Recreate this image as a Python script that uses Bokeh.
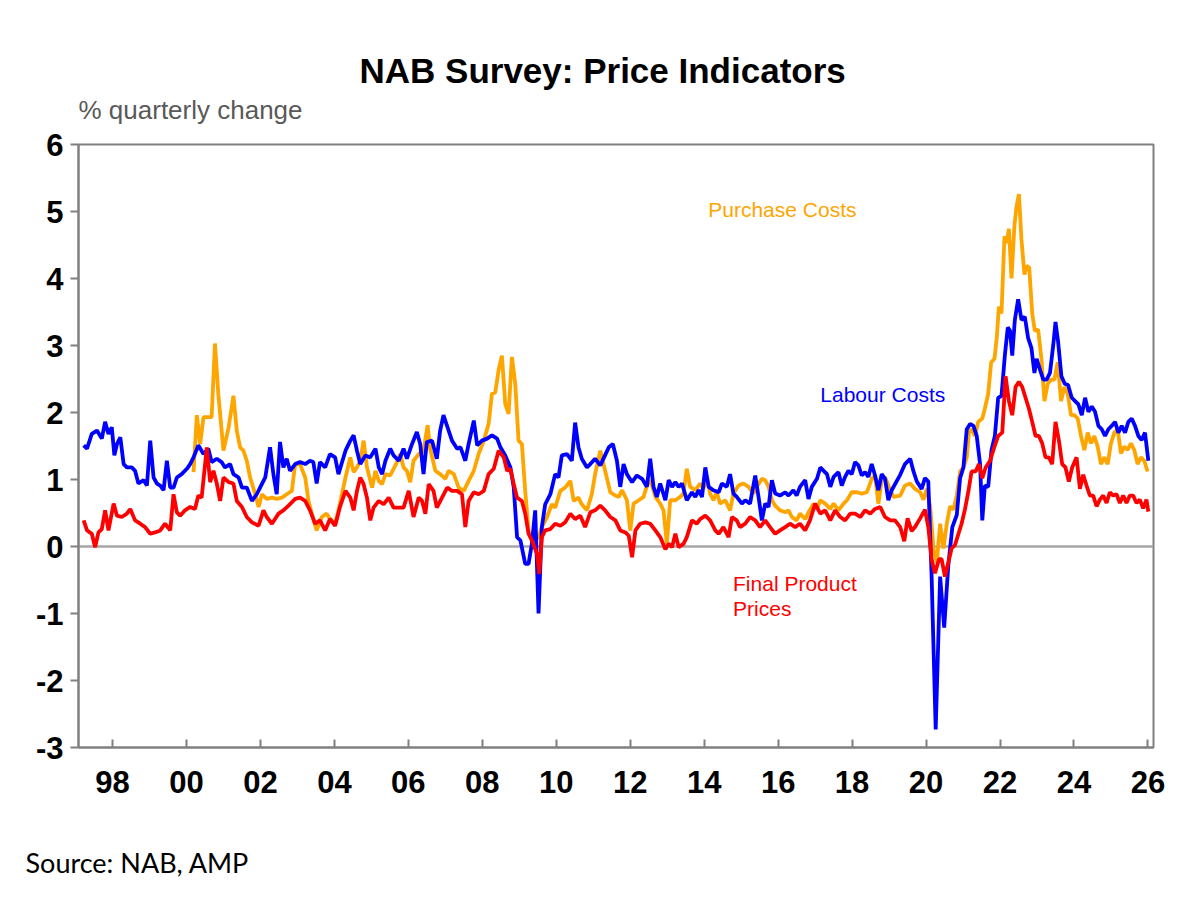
from bokeh.plotting import figure
from bokeh.models import Range1d, FixedTicker, Span, Label, Title
from bokeh.embed import file_html
from bokeh.resources import INLINE

# ---------------- data ----------------
labour_year = [
    1997.22, 1997.31, 1997.44, 1997.58, 1997.71, 1997.80, 1997.89, 1997.98, 1998.05, 1998.12,
    1998.21, 1998.30, 1998.39, 1998.52, 1998.61, 1998.70, 1998.84, 1998.93, 1999.02, 1999.11,
    1999.20, 1999.29, 1999.38, 1999.47, 1999.56, 1999.65, 1999.74, 1999.87, 2000.01, 2000.10,
    2000.19, 2000.32, 2000.46, 2000.59, 2000.68, 2000.82, 2000.95, 2001.04, 2001.18, 2001.27,
    2001.41, 2001.50, 2001.63, 2001.77, 2001.90, 2001.99, 2002.13, 2002.26, 2002.35, 2002.44,
    2002.53, 2002.62, 2002.71, 2002.80, 2002.94, 2003.07, 2003.21, 2003.34, 2003.43, 2003.52,
    2003.61, 2003.75, 2003.88, 2004.02, 2004.11,
    2004.30, 2004.43, 2004.52, 2004.61, 2004.70, 2004.84, 2004.97, 2005.11, 2005.20, 2005.29,
    2005.38, 2005.51, 2005.60, 2005.74, 2005.87, 2005.96, 2006.10, 2006.23, 2006.32, 2006.41,
    2006.50, 2006.64, 2006.77, 2006.86, 2006.95, 2007.04, 2007.18, 2007.32, 2007.41, 2007.54,
    2007.63, 2007.77, 2007.86, 2007.99, 2008.13, 2008.26, 2008.40, 2008.49, 2008.62, 2008.76,
    2008.85, 2008.94, 2009.03, 2009.16, 2009.25, 2009.34, 2009.43, 2009.52, 2009.61, 2009.70,
    2009.84, 2009.97, 2010.06, 2010.15, 2010.29, 2010.42, 2010.51, 2010.60, 2010.69, 2010.83,
    2010.92, 2011.05, 2011.19,
    2011.42, 2011.53, 2011.64, 2011.73, 2011.82, 2011.91, 2012.05, 2012.18, 2012.32, 2012.45,
    2012.54, 2012.63, 2012.72, 2012.81, 2012.95, 2013.04, 2013.13, 2013.22, 2013.31, 2013.40,
    2013.53, 2013.67, 2013.76, 2013.85, 2013.94, 2014.03, 2014.12, 2014.25, 2014.39, 2014.48,
    2014.61, 2014.70, 2014.79, 2014.88, 2015.02, 2015.11, 2015.24, 2015.38, 2015.47, 2015.56,
    2015.65, 2015.74, 2015.83, 2015.92, 2016.05, 2016.19, 2016.28, 2016.41, 2016.50, 2016.59,
    2016.73, 2016.82, 2016.91, 2017.05, 2017.14, 2017.23, 2017.32, 2017.41, 2017.50, 2017.63,
    2017.72, 2017.81, 2017.90, 2017.99, 2018.08, 2018.17, 2018.26, 2018.35, 2018.44, 2018.53,
    2018.62, 2018.71, 2018.80, 2018.89, 2018.98, 2019.07,
    2019.30, 2019.43, 2019.57, 2019.66, 2019.75, 2019.88, 2019.97, 2020.06, 2020.15, 2020.26,
    2020.38, 2020.49, 2020.60, 2020.71, 2020.83, 2020.92, 2021.01, 2021.10, 2021.19, 2021.28,
    2021.37, 2021.46, 2021.52, 2021.59, 2021.68, 2021.77, 2021.86, 2021.95, 2022.04, 2022.13,
    2022.21, 2022.27, 2022.33, 2022.40, 2022.49, 2022.58, 2022.67, 2022.76, 2022.85, 2022.93,
    2022.99, 2023.08, 2023.17, 2023.26, 2023.35, 2023.44, 2023.50, 2023.57, 2023.66, 2023.75,
    2023.84, 2023.94, 2024.03, 2024.12, 2024.21, 2024.30, 2024.39, 2024.48, 2024.57, 2024.66,
    2024.75, 2024.84, 2024.93, 2025.02, 2025.11, 2025.20, 2025.29, 2025.38, 2025.47, 2025.56,
    2025.65, 2025.74, 2025.83, 2025.92, 2026.01,
]
labour_val = [
    1.51, 1.46, 1.68, 1.73, 1.61, 1.86, 1.68, 1.78, 1.36, 1.53,
    1.63, 1.23, 1.18, 1.18, 1.13, 0.94, 0.99, 0.91, 1.58, 1.03,
    0.94, 0.91, 0.84, 1.28, 0.88, 0.88, 1.03, 1.08, 1.16, 1.23,
    1.33, 1.51, 1.38, 1.46, 1.26, 1.31, 1.26, 1.18, 1.23, 1.08,
    1.03, 0.88, 0.88, 0.68, 0.78, 0.88, 1.03, 1.48, 1.08, 0.78,
    1.56, 1.18, 1.31, 1.13, 1.23, 1.26, 1.23, 1.28, 1.26, 0.94,
    1.26, 1.18, 1.38, 1.33, 1.08,
    1.43, 1.58, 1.66, 1.43, 1.23, 1.36, 1.33, 1.46, 1.18, 1.08,
    1.28, 1.46, 1.36, 1.28, 1.46, 1.31, 1.53, 1.71, 1.53, 1.08,
    1.56, 1.58, 1.31, 1.73, 1.96, 1.81, 1.58, 1.46, 1.48, 1.28,
    1.53, 1.88, 1.51, 1.58, 1.61, 1.66, 1.61, 1.48, 1.36, 1.18,
    0.88, 0.14, 0.09, -0.26, -0.26, 0.04, 0.54, -1.00, 0.29, 0.63,
    0.78, 1.08, 1.03, 1.36, 1.38, 1.28, 1.85, 1.48, 1.31, 1.18,
    1.23, 1.31, 1.21,
    1.48, 1.53, 1.28, 0.89, 1.23, 1.08, 0.96, 1.06, 1.01, 0.89,
    1.31, 0.89, 0.74, 0.94, 0.69, 0.99, 0.89, 0.96, 0.89, 0.94,
    0.69, 0.81, 0.74, 0.84, 0.74, 1.18, 0.89, 0.84, 0.81, 0.94,
    0.89, 1.08, 0.79, 0.74, 0.64, 0.69, 0.64, 1.06, 0.74, 0.39,
    0.64, 0.59, 0.99, 0.79, 0.76, 0.81, 0.76, 0.84, 0.76, 0.89,
    0.99, 0.71, 0.89, 1.01, 1.18, 1.13, 1.08, 0.89, 1.04, 1.11,
    0.91, 1.04, 1.13, 1.08, 1.26, 1.21, 1.06, 1.11, 1.04, 1.23,
    1.06, 0.84, 1.08, 1.01, 0.69, 0.84,
    1.07, 1.23, 1.31, 1.12, 0.97, 0.86, 1.02, 0.97, -0.45, -2.73,
    -0.45, -1.21, -0.29, 0.29, 0.47, 1.02, 1.18, 1.75, 1.83, 1.80,
    1.65, 1.23, 0.39, 0.91, 0.89, 1.44, 1.65, 2.22, 2.25, 2.85,
    3.27, 3.22, 2.85, 3.38, 3.69, 3.38, 3.43, 3.11, 2.96, 2.59,
    2.80, 2.64, 2.49, 2.49, 2.59, 3.01, 3.35, 3.06, 2.54, 2.43,
    2.41, 2.22, 2.17, 2.12, 1.96, 2.22, 2.01, 2.09, 2.01, 1.80,
    1.75, 1.65, 1.75, 1.80, 1.86, 1.70, 1.80, 1.70, 1.86, 1.91,
    1.80, 1.65, 1.59, 1.70, 1.28,
]

purchase_year = [
    2000.19, 2000.28, 2000.37, 2000.46, 2000.59, 2000.68, 2000.77, 2000.86, 2001.00, 2001.14,
    2001.27, 2001.36, 2001.45, 2001.54, 2001.63, 2001.72, 2001.86, 2001.95, 2002.04, 2002.17,
    2002.31, 2002.44, 2002.58, 2002.71, 2002.85, 2002.94, 2003.07, 2003.21, 2003.30, 2003.39,
    2003.52, 2003.66, 2003.79, 2003.88, 2004.02, 2004.15,
    2004.30, 2004.43, 2004.52, 2004.61, 2004.70, 2004.79, 2004.88, 2005.02, 2005.11, 2005.20,
    2005.29, 2005.38, 2005.51, 2005.65, 2005.78, 2005.87, 2005.96, 2006.05, 2006.14, 2006.28,
    2006.41, 2006.52, 2006.59, 2006.73, 2006.86, 2007.00, 2007.09, 2007.23, 2007.36, 2007.50,
    2007.63, 2007.77, 2007.90, 2008.04, 2008.17, 2008.26, 2008.35, 2008.44, 2008.53, 2008.62,
    2008.71, 2008.80, 2008.89, 2008.98, 2009.07, 2009.16, 2009.25, 2009.34, 2009.43, 2009.52,
    2009.61, 2009.75, 2009.88, 2009.97, 2010.11, 2010.24, 2010.38, 2010.47, 2010.60, 2010.69,
    2010.83, 2010.96, 2011.05, 2011.19,
    2011.46, 2011.60, 2011.69, 2011.78, 2011.91, 2012.00, 2012.09, 2012.23, 2012.36, 2012.50,
    2012.59, 2012.68, 2012.81, 2012.90, 2012.99, 2013.08, 2013.22, 2013.35, 2013.44, 2013.53,
    2013.62, 2013.76, 2013.89, 2013.98, 2014.07, 2014.16, 2014.25, 2014.34, 2014.43, 2014.57,
    2014.70, 2014.79, 2014.93, 2015.06, 2015.20, 2015.33, 2015.42, 2015.56, 2015.65, 2015.74,
    2015.83, 2015.92, 2016.05, 2016.19, 2016.28, 2016.37, 2016.50, 2016.59, 2016.73, 2016.82,
    2016.96, 2017.05, 2017.14, 2017.27, 2017.41, 2017.50, 2017.63, 2017.77, 2017.86, 2017.99,
    2018.13, 2018.26, 2018.40, 2018.53, 2018.62, 2018.71, 2018.80, 2018.89, 2019.03, 2019.12,
    2019.30, 2019.43, 2019.57, 2019.70, 2019.84, 2019.93, 2020.02, 2020.11, 2020.20, 2020.29,
    2020.38, 2020.47, 2020.56, 2020.65, 2020.74, 2020.83, 2020.92, 2021.01, 2021.10, 2021.16,
    2021.23, 2021.32, 2021.41, 2021.52, 2021.59, 2021.68, 2021.76, 2021.85, 2021.91, 2021.97,
    2022.04, 2022.12, 2022.18, 2022.24, 2022.31, 2022.39, 2022.44, 2022.51, 2022.58, 2022.66,
    2022.72, 2022.79, 2022.87, 2022.94, 2023.03, 2023.12, 2023.20, 2023.29, 2023.38, 2023.47,
    2023.56, 2023.65, 2023.74, 2023.83, 2023.92, 2024.01, 2024.10, 2024.19, 2024.28, 2024.37,
    2024.46, 2024.55, 2024.64, 2024.73, 2024.82, 2024.91, 2025.00, 2025.09, 2025.18, 2025.27,
    2025.36, 2025.45, 2025.54, 2025.63, 2025.72, 2025.81, 2025.90, 2025.99,
]
purchase_val = [
    1.11, 1.96, 1.53, 1.93, 1.93, 1.93, 3.03, 2.28, 1.43, 1.78,
    2.25, 1.73, 1.48, 1.43, 1.28, 1.03, 0.78, 0.59, 0.78, 0.71,
    0.73, 0.71, 0.73, 0.78, 0.83, 1.23, 1.23, 1.03, 0.68, 0.49,
    0.24, 0.44, 0.49, 0.41, 0.34, 0.64,
    1.03, 1.33, 1.11, 1.18, 1.28, 1.58, 1.18, 0.88, 1.13, 0.98,
    0.93, 1.08, 1.06, 1.21, 1.38, 1.18, 1.13, 0.96, 1.28, 1.38,
    1.43, 1.81, 1.46, 1.13, 1.08, 1.01, 1.13, 1.08, 0.88, 0.83,
    0.98, 1.13, 1.38, 1.58, 1.83, 2.28, 2.30, 2.63, 2.85, 2.13,
    1.98, 2.83, 2.43, 1.58, 1.53, 0.83, 0.24, 0.09, 0.09, 0.14,
    0.29, 0.44, 0.63, 0.58, 0.83, 0.88, 0.98, 0.68, 0.73, 0.63,
    0.54, 0.78, 1.08, 1.43,
    0.81, 0.76, 0.74, 0.84, 0.69, 0.24, 0.64, 0.69, 0.74, 0.99,
    0.91, 0.74, 0.64, 0.54, 0.04, 0.69, 0.69, 0.74, 0.79, 1.16,
    0.89, 0.84, 0.94, 0.86, 1.04, 0.79, 0.69, 0.81, 0.64, 0.69,
    0.54, 0.79, 0.91, 0.94, 0.89, 0.79, 0.89, 1.01, 0.99, 0.89,
    0.69, 0.61, 0.54, 0.51, 0.54, 0.44, 0.39, 0.49, 0.41, 0.51,
    0.64, 0.56, 0.69, 0.64, 0.56, 0.64, 0.54, 0.64, 0.69, 0.81,
    0.81, 0.79, 0.81, 1.01, 1.06, 0.64, 0.99, 1.04, 0.84, 0.74,
    0.76, 0.91, 0.94, 0.86, 0.81, 0.70, 0.86, 0.60, -0.03, -0.24,
    0.34, -0.03, 0.34, 0.60, 0.55, 0.76, 1.12, 1.18, 1.33, 1.70,
    1.75, 1.65, 1.86, 1.91, 2.06, 2.28, 2.75, 2.80, 3.11, 3.58,
    3.48, 4.63, 4.53, 4.74, 4.00, 4.79, 5.05, 5.26, 4.58, 4.06,
    4.19, 4.16, 3.48, 3.22, 3.24, 2.80, 2.17, 2.43, 2.49, 2.49,
    2.75, 2.17, 2.38, 2.28, 1.96, 1.96, 1.91, 1.65, 1.44, 1.70,
    1.54, 1.65, 1.49, 1.23, 1.33, 1.23, 1.54, 1.70, 1.75, 1.39,
    1.49, 1.44, 1.54, 1.44, 1.23, 1.33, 1.28, 1.12,
]

final_year = [
    1997.22, 1997.31, 1997.44, 1997.53, 1997.62, 1997.71, 1997.80, 1997.89, 1998.03, 1998.12,
    1998.25, 1998.39, 1998.48, 1998.61, 1998.75, 1998.88, 1999.02, 1999.15, 1999.29, 1999.42,
    1999.56, 1999.65, 1999.74, 1999.83, 1999.96, 2000.10, 2000.23, 2000.32, 2000.41, 2000.55,
    2000.64, 2000.73, 2000.82, 2000.91, 2001.00, 2001.14, 2001.27, 2001.36, 2001.50, 2001.63,
    2001.77, 2001.95, 2002.08, 2002.17, 2002.31, 2002.49, 2002.62, 2002.76, 2002.94, 2003.07,
    2003.21, 2003.34, 2003.48, 2003.61, 2003.75, 2003.88, 2004.02, 2004.15,
    2004.30, 2004.43, 2004.52, 2004.61, 2004.70, 2004.79, 2004.88, 2004.97, 2005.06, 2005.20,
    2005.33, 2005.47, 2005.60, 2005.74, 2005.87, 2006.01, 2006.14, 2006.28, 2006.37, 2006.46,
    2006.55, 2006.68, 2006.77, 2006.91, 2007.05, 2007.18, 2007.32, 2007.45, 2007.54, 2007.63,
    2007.77, 2007.90, 2008.04, 2008.17, 2008.31, 2008.44, 2008.58, 2008.67, 2008.76, 2008.85,
    2008.94, 2009.07, 2009.16, 2009.25, 2009.34, 2009.48, 2009.54, 2009.61, 2009.70, 2009.84,
    2009.97, 2010.11, 2010.24, 2010.38, 2010.51, 2010.65, 2010.78, 2010.92, 2011.05, 2011.19,
    2011.32, 2011.46, 2011.60, 2011.73, 2011.87, 2011.96, 2012.05, 2012.14, 2012.27, 2012.41,
    2012.54, 2012.68, 2012.81, 2012.95, 2013.04, 2013.13, 2013.22, 2013.31, 2013.44, 2013.53,
    2013.67, 2013.80, 2013.89, 2014.03, 2014.16, 2014.30, 2014.39, 2014.52, 2014.66, 2014.75,
    2014.88, 2014.97, 2015.11, 2015.24, 2015.38, 2015.51, 2015.65, 2015.78, 2015.92, 2016.05,
    2016.19, 2016.32, 2016.46, 2016.59, 2016.73, 2016.86, 2017.00, 2017.14, 2017.27, 2017.41,
    2017.54, 2017.68, 2017.81, 2017.95, 2018.08, 2018.22, 2018.35, 2018.49, 2018.62, 2018.76,
    2018.89, 2019.03, 2019.16,
    2019.30, 2019.41, 2019.50, 2019.61, 2019.70, 2019.84, 2019.97, 2020.06, 2020.15, 2020.24,
    2020.35, 2020.42, 2020.51, 2020.60, 2020.69, 2020.78, 2020.87, 2020.96, 2021.05, 2021.14,
    2021.23, 2021.34, 2021.43, 2021.52, 2021.61, 2021.73, 2021.85, 2021.95, 2022.06, 2022.15,
    2022.24, 2022.33, 2022.42, 2022.51, 2022.60, 2022.69, 2022.78, 2022.87, 2022.96, 2023.05,
    2023.14, 2023.23, 2023.32, 2023.41, 2023.50, 2023.59, 2023.68, 2023.77, 2023.86, 2023.95,
    2024.07, 2024.16, 2024.25, 2024.34, 2024.43, 2024.52, 2024.61, 2024.70, 2024.79, 2024.88,
    2024.97, 2025.06, 2025.15, 2025.24, 2025.33, 2025.42, 2025.51, 2025.60, 2025.69, 2025.78,
    2025.87, 2025.96, 2026.01,
]
final_val = [
    0.39, 0.24, 0.19, -0.01, 0.21, 0.26, 0.54, 0.24, 0.64, 0.46,
    0.44, 0.49, 0.56, 0.39, 0.34, 0.29, 0.19, 0.21, 0.24, 0.34,
    0.24, 0.78, 0.51, 0.46, 0.54, 0.59, 0.56, 0.76, 0.73, 1.48,
    0.96, 1.13, 0.94, 0.68, 1.03, 0.96, 0.94, 0.68, 0.59, 0.44,
    0.36, 0.31, 0.54, 0.44, 0.34, 0.49, 0.54, 0.61, 0.71, 0.73,
    0.68, 0.54, 0.34, 0.39, 0.24, 0.41, 0.31, 0.59,
    0.83, 0.73, 0.54, 0.83, 1.03, 0.93, 0.73, 0.39, 0.58, 0.68,
    0.63, 0.73, 0.58, 0.58, 0.58, 0.83, 0.44, 0.73, 0.68, 0.49,
    0.93, 0.83, 0.58, 0.73, 0.88, 0.83, 0.83, 0.78, 0.29, 0.68,
    0.81, 0.78, 0.83, 1.08, 1.16, 1.43, 1.33, 1.13, 1.16, 0.93,
    0.73, 0.68, 0.49, 0.19, 0.09, -0.11, -0.41, 0.14, 0.24, 0.26,
    0.34, 0.31, 0.36, 0.49, 0.41, 0.46, 0.29, 0.51, 0.54, 0.61,
    0.54, 0.44, 0.39, 0.24, 0.21, 0.16, -0.16, 0.24, 0.34, 0.36,
    0.34, 0.24, 0.14, -0.04, 0.04, -0.01, 0.19, -0.01, 0.04, 0.14,
    0.39, 0.34, 0.41, 0.46, 0.39, 0.24, 0.19, 0.29, 0.14, 0.44,
    0.39, 0.29, 0.34, 0.44, 0.39, 0.29, 0.39, 0.29, 0.19, 0.24,
    0.29, 0.34, 0.29, 0.34, 0.24, 0.39, 0.64, 0.49, 0.54, 0.39,
    0.54, 0.44, 0.39, 0.49, 0.49, 0.44, 0.54, 0.49, 0.56, 0.59,
    0.44, 0.39, 0.39,
    0.29, 0.08, 0.42, 0.23, 0.29, 0.42, 0.55, 0.29, -0.19, -0.40,
    -0.19, -0.19, -0.45, -0.24, -0.03, 0.02, 0.18, 0.34, 0.55, 0.81,
    1.12, 1.12, 1.23, 1.02, 1.18, 1.28, 1.49, 1.65, 1.70, 2.54,
    2.17, 1.96, 2.38, 2.46, 2.38, 2.22, 2.06, 1.86, 1.65, 1.65,
    1.54, 1.33, 1.33, 1.23, 1.86, 1.59, 1.23, 1.18, 0.97, 1.18,
    1.33, 0.86, 1.07, 0.91, 0.76, 0.76, 0.60, 0.70, 0.76, 0.65,
    0.81, 0.76, 0.78, 0.65, 0.76, 0.65, 0.76, 0.76, 0.65, 0.70,
    0.57, 0.70, 0.52,
]

x_tick_years = [1998, 2000, 2002, 2004, 2006, 2008, 2010, 2012, 2014, 2016, 2018, 2020, 2022, 2024, 2026]
x_tick_labels = ["98", "00", "02", "04", "06", "08", "10", "12", "14", "16", "18", "20", "22", "24", "26"]
y_ticks = [-3, -2, -1, 0, 1, 2, 3, 4, 5, 6]
y_tick_labels = ["-3", "-2", "-1", "0", "1", "2", "3", "4", "5", "6"]

title_text = "NAB Survey: Price Indicators"
unit_text = "% quarterly change"
source_text = "Source: NAB, AMP"

BLUE = "#0000FF"
ORANGE = "#FFA500"
RED = "#FF0000"
FRAME = "#808080"
FONT = "Liberation Sans"

# ---------------- figure ----------------
p = figure(width=1187, height=896, output_backend="svg", toolbar_location=None,
           x_range=Range1d(1997.08, 2026.15), y_range=Range1d(-3, 6),
           min_border_left=78, min_border_right=34, min_border_top=144,
           min_border_bottom=149, title=None)
p.background_fill_color = "white"
p.border_fill_color = "white"
p.grid.visible = False
p.outline_line_color = FRAME
p.outline_line_width = 2

for ax in (p.xaxis, p.yaxis):
    ax.axis_line_color = FRAME
    ax.axis_line_width = 2
    ax.major_tick_line_color = FRAME
    ax.major_tick_line_width = 2
    ax.minor_tick_line_color = None
    ax.major_label_text_font = FONT
    ax.major_label_text_font_style = "bold"
    ax.major_label_text_font_size = "31px"
    ax.major_label_text_color = "black"

p.xaxis.ticker = FixedTicker(ticks=x_tick_years)
p.xaxis.major_label_overrides = dict(zip(x_tick_years, x_tick_labels))
p.xaxis.major_tick_in = 8
p.xaxis.major_tick_out = 0
p.xaxis.major_label_standoff = 23

p.yaxis.ticker = FixedTicker(ticks=y_ticks)
p.yaxis.major_label_overrides = dict(zip(y_ticks, y_tick_labels))
p.yaxis.major_tick_in = 0
p.yaxis.major_tick_out = 8
p.yaxis.major_label_standoff = 7

zero = Span(location=0, dimension="width", line_color="#a6a6a6", line_width=2.5, level="underlay")
p.add_layout(zero)

p.line(purchase_year, purchase_val, line_color=ORANGE, line_width=3.8)
p.line(labour_year, labour_val, line_color=BLUE, line_width=3.8)
p.line(final_year, final_val, line_color=RED, line_width=3.8)

# ---------------- titles outside the frame ----------------
unit_title = Title(text=unit_text, align="left", offset=0, standoff=40,
                   text_font=FONT, text_font_size="26px", text_font_style="normal",
                   text_color="#595959")
p.add_layout(unit_title, "above")
main_title = Title(text=title_text, align="left", offset=281, standoff=-34,
                   text_font=FONT, text_font_size="35px", text_font_style="bold",
                   text_color="black")
p.add_layout(main_title, "above")

source_title = Title(text=source_text, align="left", offset=-53, standoff=0,
                     text_font="Lato", text_font_size="27px", text_font_style="normal",
                     text_color="black")
try:
    source_title.padding = dict(left=0, right=0, top=48, bottom=0)
except Exception:
    try:
        source_title.padding = (0, 0, 48, 0)
    except Exception:
        pass
p.add_layout(source_title, "below")

# ---------------- in-plot labels ----------------
p.add_layout(Label(x=2014.11, y=5.03, text="Purchase Costs", text_font=FONT, text_font_size="21px",
                   text_align="left", text_baseline="middle", text_color=ORANGE))
p.add_layout(Label(x=2017.14, y=2.27, text="Labour Costs", text_font=FONT, text_font_size="21px",
                   text_align="left", text_baseline="middle", text_color=BLUE))
p.add_layout(Label(x=2014.78, y=-0.55, text="Final Product", text_font=FONT, text_font_size="21px",
                   text_align="left", text_baseline="middle", text_color=RED))
p.add_layout(Label(x=2014.78, y=-0.93, text="Prices", text_font=FONT, text_font_size="21px",
                   text_align="left", text_baseline="middle", text_color=RED))

open("out.html", "w").write(file_html(p, INLINE))
